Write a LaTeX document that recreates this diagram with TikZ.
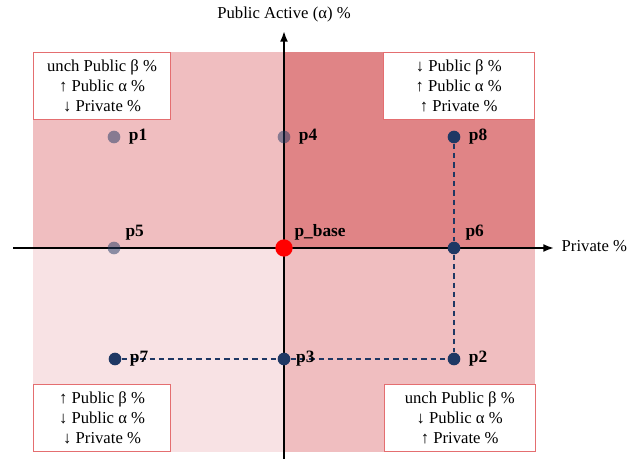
\documentclass[tikz,border=0pt]{standalone}
\usepackage{fontspec}
\setmainfont{Liberation Serif}
\usepackage{xcolor}
\usetikzlibrary{arrows.meta,positioning}

\definecolor{quadlight}{RGB}{240,190,192}
\definecolor{quaddark}{RGB}{224,132,134}
\definecolor{quadpale}{RGB}{248,226,228}
\definecolor{navy}{RGB}{31,56,100}
\definecolor{boxred}{RGB}{228,110,112}

\begin{document}
\begin{tikzpicture}[
  x=0.75pt,
  y=-0.75pt,
  font=\fontsize{12.5}{15}\selectfont,
  axis/.style={
    line width=1.5pt,
    -{Latex[length=8pt,width=6pt]}
  },
  point/.style={
    circle,
    fill=navy,
    inner sep=0pt,
    minimum size=9.5pt
  },
  faded/.style={
    point,
    fill opacity=0.5
  },
  plabel/.style={
    font=\fontsize{13}{15}\selectfont\bfseries,
    inner sep=1pt
  },
  infobox/.style={
    draw=boxred,
    fill=white,
    line width=0.6pt,
    align=center,
    minimum height=50pt,
    anchor=north west
  },
  guide/.style={
    draw=navy,
    line width=0.9pt,
    dash pattern=on 4pt off 3pt
  }
]
  \useasboundingbox (0,0) rectangle (631,459);

  \fill[quadlight] (33,52) rectangle (284,248);
  \fill[quaddark] (284,52) rectangle (535,248);
  \fill[quadpale] (33,248) rectangle (284,452);
  \fill[quadlight] (284,248) rectangle (535,452);

  \coordinate (xleft) at (13,248);
  \coordinate (xright) at (554,248);
  \coordinate (ybottom) at (284,459);
  \coordinate (ytop) at (284,31);
  \draw[axis] (xleft) -- (xright);
  \draw[axis] (ybottom) -- (ytop);
  \node[anchor=west] (xlabel) at (557,246) {Private \%};
  \node (ylabel) at (284,14) {Public Active (α) \%};

  \node[infobox, minimum width=103pt] (boxtl) at (33,52)
    {unch Public β \%\\ ↑ Public α \%\\ ↓ Private \%};
  \node[infobox, minimum width=113pt] (boxtr) at (383,52)
    {↓ Public β \%\\ ↑ Public α \%\\ ↑ Private \%};
  \node[infobox, minimum width=103pt] (boxbl) at (33,384)
    {↑ Public β \%\\ ↓ Public α \%\\ ↓ Private \%};
  \node[infobox, minimum width=113pt] (boxbr) at (384,384)
    {unch Public β \%\\ ↓ Public α \%\\ ↑ Private \%};

  \node[faded] (p1) at (114,137) {};
  \node[faded] (p4) at (284,137) {};
  \node[faded] (p5) at (114,248) {};
  \node[point] (p8) at (454,137) {};
  \node[point] (p6) at (454,248) {};
  \node[point] (p7) at (115,359) {};
  \node[point] (p3) at (284,359) {};
  \node[point] (p2) at (454,359) {};
  \node[point, fill=red, minimum size=13pt] (pbase) at (284,248) {};

  \draw[guide] (p8) -- (p6) -- (p2);
  \draw[guide] (p7) -- (p3) -- (p2);

  \node[plabel, right=5pt of p1] (p1l) {p1};
  \node[plabel, right=5pt of p4] (p4l) {p4};
  \node[plabel, right=5pt of p8] (p8l) {p8};
  \node[plabel, above right=1pt and 4pt of p5] (p5l) {p5};
  \node[plabel, above right=0pt and 2pt of pbase] (pbasel) {p\_base};
  \node[plabel, above right=1pt and 4pt of p6] (p6l) {p6};
  \node[plabel, right=5pt of p7] (p7l) {p7};
  \node[plabel, right=3pt of p3] (p3l) {p3};
  \node[plabel, right=5pt of p2] (p2l) {p2};
\end{tikzpicture}
\end{document}
